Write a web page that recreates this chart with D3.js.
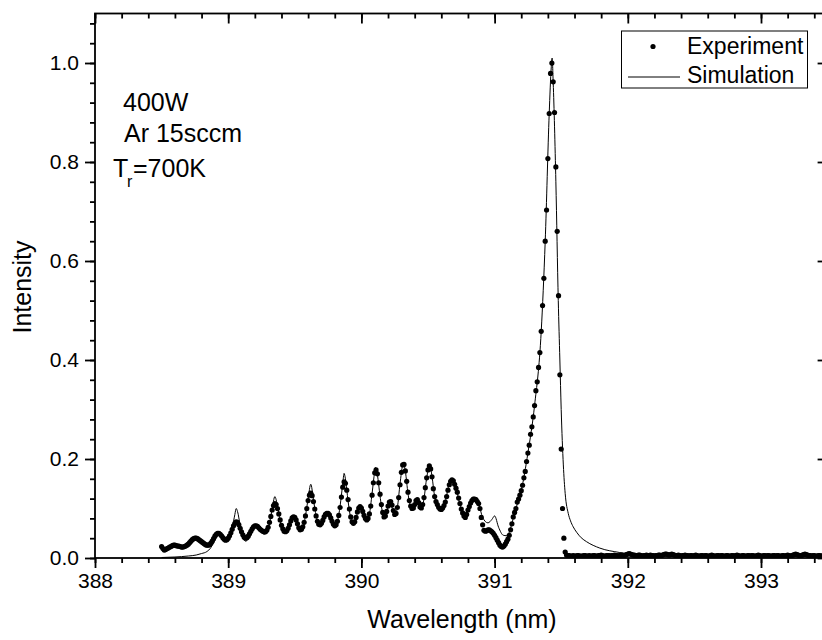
<!DOCTYPE html>
<html>
<head>
<meta charset="utf-8">
<script src="https://cdn.jsdelivr.net/npm/d3@7"></script>
<style>
  html, body { margin: 0; padding: 0; background: #fff; }
  svg { display: block; font-family: "Liberation Sans", Arial, Helvetica, sans-serif; }
</style>
</head>
<body>
<svg id="chart" width="822" height="640"></svg>
<script>
// Measured emission spectrum: intensity sampled every 0.01 nm from 388.50 nm
const wavelengthStart = 388.50;
const wavelengthStep = 0.01;
const experiment = [
  0.023,0.019,0.016,0.017,0.019,0.020,0.022,0.023,0.025,0.026,
  0.026,0.025,0.024,0.024,0.023,0.022,0.022,0.023,0.024,0.026,
  0.028,0.031,0.034,0.037,0.039,0.040,0.040,0.039,0.037,0.035,
  0.033,0.031,0.029,0.027,0.026,0.026,0.027,0.030,0.034,0.039,
  0.044,0.048,0.050,0.050,0.048,0.045,0.041,0.038,0.036,0.037,
  0.040,0.045,0.051,0.058,0.065,0.070,0.073,0.072,0.067,0.060,
  0.053,0.047,0.042,0.040,0.041,0.044,0.049,0.054,0.059,0.063,
  0.065,0.065,0.064,0.061,0.058,0.056,0.054,0.053,0.053,0.056,
  0.062,0.072,0.084,0.097,0.106,0.110,0.108,0.100,0.089,0.077,
  0.066,0.059,0.054,0.053,0.055,0.060,0.067,0.075,0.081,0.083,
  0.082,0.077,0.069,0.061,0.057,0.058,0.063,0.072,0.085,0.100,
  0.116,0.127,0.131,0.126,0.114,0.099,0.085,0.074,0.068,0.067,
  0.070,0.076,0.083,0.088,0.090,0.090,0.087,0.081,0.074,0.068,
  0.065,0.067,0.074,0.086,0.102,0.123,0.143,0.154,0.151,0.137,
  0.118,0.099,0.083,0.073,0.070,0.073,0.082,0.093,0.101,0.104,
  0.101,0.094,0.086,0.080,0.077,0.080,0.089,0.105,0.127,0.152,
  0.172,0.178,0.170,0.152,0.129,0.108,0.092,0.083,0.085,0.094,
  0.105,0.113,0.114,0.107,0.096,0.088,0.090,0.102,0.122,0.148,
  0.173,0.188,0.189,0.176,0.155,0.133,0.116,0.105,0.100,0.101,
  0.108,0.116,0.118,0.112,0.103,0.101,0.108,0.122,0.142,0.162,
  0.178,0.186,0.180,0.164,0.140,0.124,0.114,0.108,0.102,0.099,
  0.098,0.101,0.106,0.113,0.124,0.137,0.148,0.155,0.158,0.156,
  0.149,0.141,0.133,0.121,0.110,0.099,0.091,0.085,0.082,0.088,
  0.097,0.104,0.111,0.116,0.119,0.119,0.118,0.114,0.110,0.100,
  0.082,0.067,0.056,0.054,0.055,0.057,0.057,0.055,0.053,0.050,
  0.046,0.041,0.036,0.031,0.026,0.023,0.022,0.024,0.028,0.033,
  0.038,0.046,0.057,0.069,0.083,0.092,0.100,0.113,0.119,0.127,
  0.136,0.147,0.162,0.175,0.195,0.212,0.228,0.250,0.265,0.285,
  0.308,0.338,0.356,0.385,0.415,0.458,0.510,0.565,0.640,0.703,
  0.807,0.898,0.979,1.000,0.962,0.900,0.790,0.660,0.530,0.370,
  0.220,0.100,0.040,0.012,0.006,0.005,0.005,0.004,0.004,0.005,
  0.004,0.004,0.005,0.005,0.004,0.004,0.004,0.005,0.005,0.004,
  0.004,0.005,0.004,0.004,0.005,0.005,0.004,0.004,0.005,0.005,
  0.006,0.005,0.004,0.004,0.005,0.005,0.005,0.004,0.005,0.005,
  0.006,0.005,0.005,0.004,0.005,0.006,0.006,0.005,0.006,0.007,
  0.008,0.009,0.008,0.007,0.006,0.006,0.005,0.005,0.006,0.006,
  0.005,0.004,0.005,0.005,0.006,0.005,0.005,0.006,0.005,0.005,
  0.004,0.005,0.005,0.006,0.006,0.005,0.006,0.007,0.008,0.008,
  0.007,0.006,0.007,0.008,0.007,0.006,0.005,0.005,0.006,0.005,
  0.004,0.005,0.005,0.006,0.005,0.005,0.004,0.005,0.005,0.004,
  0.005,0.006,0.005,0.004,0.004,0.005,0.005,0.004,0.005,0.005,
  0.004,0.004,0.005,0.006,0.005,0.004,0.004,0.005,0.005,0.004,
  0.005,0.005,0.004,0.004,0.005,0.005,0.004,0.004,0.005,0.005,
  0.004,0.005,0.006,0.005,0.004,0.004,0.005,0.005,0.004,0.004,
  0.005,0.005,0.004,0.005,0.005,0.004,0.004,0.005,0.006,0.005,
  0.004,0.004,0.005,0.005,0.004,0.005,0.005,0.004,0.004,0.005,
  0.005,0.004,0.005,0.005,0.004,0.004,0.005,0.005,0.004,0.005,
  0.006,0.005,0.004,0.005,0.006,0.007,0.008,0.007,0.006,0.005,
  0.005,0.006,0.007,0.008,0.007,0.006,0.005,0.005,0.004,0.005,
  0.005,0.004,0.004,0.005,0.005,0.004,0.004,0.005,0.005,0.004,
  0.005
];

// Simulated spectrum (wavelength in nm, normalised intensity)
const simWavelength = [
  388.50,388.60,388.70,388.76,388.80,388.84,388.87,388.89,388.91,388.93,
  388.95,388.97,388.99,389.01,389.03,389.05,389.06,389.07,389.09,389.11,
  389.13,389.15,389.18,389.21,389.24,389.27,389.29,389.31,389.33,389.35,
  389.37,389.39,389.41,389.43,389.46,389.49,389.51,389.54,389.56,389.58,
  389.60,389.62,389.64,389.66,389.69,389.72,389.745,389.77,389.80,389.82,
  389.84,389.86,389.87,389.88,389.90,389.92,389.935,389.96,389.99,390.02,
  390.04,390.06,390.08,390.10,390.105,390.12,390.14,390.16,390.17,390.19,
  390.215,390.25,390.27,390.29,390.31,390.315,390.33,390.35,390.37,390.39,
  390.415,390.445,390.47,390.49,390.51,390.515,390.53,390.55,390.58,390.60,
  390.63,390.66,390.685,390.71,390.74,390.78,390.81,390.85,390.88,390.91,
  390.95,390.98,391.00,391.03,391.065,391.09,391.11,391.13,391.16,391.20,
  391.25,391.30,391.35,391.38,391.41,391.425,391.432,391.44,391.46,391.478,
  391.49,391.50,391.516,391.53,391.553,391.57,391.59,391.616,391.65,391.69,
  391.79,391.94,392.00,392.10,392.50,393.00,393.50
];
const simIntensity = [
  0.001,0.002,0.004,0.006,0.009,0.013,0.021,0.031,0.041,0.047,
  0.043,0.036,0.035,0.043,0.060,0.088,0.100,0.094,0.066,0.044,
  0.034,0.038,0.053,0.062,0.055,0.048,0.051,0.070,0.098,0.124,
  0.105,0.074,0.055,0.050,0.065,0.082,0.076,0.055,0.060,0.085,
  0.120,0.149,0.118,0.085,0.065,0.082,0.090,0.080,0.063,0.073,
  0.105,0.150,0.171,0.160,0.115,0.080,0.068,0.082,0.103,0.085,
  0.075,0.088,0.130,0.175,0.183,0.168,0.125,0.090,0.082,0.095,
  0.112,0.087,0.102,0.150,0.188,0.192,0.175,0.130,0.103,0.098,
  0.110,0.098,0.120,0.162,0.185,0.186,0.165,0.124,0.102,0.100,
  0.115,0.150,0.160,0.142,0.108,0.085,0.105,0.122,0.110,0.082,
  0.071,0.078,0.085,0.062,0.046,0.045,0.052,0.070,0.100,0.136,
  0.212,0.308,0.458,0.640,0.898,0.990,1.010,0.960,0.760,0.520,
  0.400,0.300,0.188,0.130,0.090,0.075,0.063,0.052,0.041,0.033,
  0.020,0.011,0.008,0.005,0.004,0.004,0.004
];

const xMajorTicks = [388, 389, 390, 391, 392, 393];
const yMajorTicks = [0.0, 0.2, 0.4, 0.6, 0.8, 1.0];
const seriesLabels = ["Experiment", "Simulation"];
const conditionLines = ["400W", "Ar 15sccm"];
const temperatureLabel = { symbol: "T", subscript: "r", value: "=700K" };

const svg = d3.select("#chart");

const plotLeft = 95, plotRight = 827.6, plotTop = 13.5, plotBottom = 558;
const x = d3.scaleLinear().domain([388, 393.5]).range([plotLeft, plotRight]);
const y = d3.scaleLinear().domain([0, 1.1]).range([plotBottom, plotTop]);

const xMinorTicks = d3.range(388, 393.51, 0.2).map(v => +v.toFixed(2));
const yMinorTicks = d3.range(0, 1.101, 0.04).map(v => +v.toFixed(2));

svg.append("defs").append("clipPath").attr("id", "plotClip")
  .append("rect").attr("x", plotLeft).attr("y", plotTop)
  .attr("width", plotRight - plotLeft).attr("height", plotBottom - plotTop);

// Axes: outward ticks on left/bottom, inward ticks on top/right
function styleAxis(g) {
  g.select(".domain").remove();
  g.selectAll(".tick line").attr("stroke", "#000").attr("stroke-width", 1.8);
  g.selectAll(".tick text").attr("fill", "#000").attr("font-size", 21)
    .attr("font-family", "Liberation Sans, Arial, sans-serif");
}

svg.append("g").attr("transform", `translate(0,${plotBottom})`)
  .call(d3.axisBottom(x).tickValues(xMinorTicks).tickSize(5).tickFormat(""))
  .call(styleAxis);
svg.append("g").attr("transform", `translate(0,${plotBottom})`)
  .call(d3.axisBottom(x).tickValues(xMajorTicks).tickSize(10).tickPadding(5).tickFormat(d3.format("d")))
  .call(styleAxis);

svg.append("g").attr("transform", `translate(0,${plotTop})`)
  .call(d3.axisTop(x).tickValues(xMinorTicks).tickSize(-5).tickFormat(""))
  .call(styleAxis);
svg.append("g").attr("transform", `translate(0,${plotTop})`)
  .call(d3.axisTop(x).tickValues(xMajorTicks).tickSize(-10).tickFormat(""))
  .call(styleAxis);

svg.append("g").attr("transform", `translate(${plotLeft},0)`)
  .call(d3.axisLeft(y).tickValues(yMinorTicks).tickSize(5).tickFormat(""))
  .call(styleAxis);
svg.append("g").attr("transform", `translate(${plotLeft},0)`)
  .call(d3.axisLeft(y).tickValues(yMajorTicks).tickSize(10).tickPadding(6).tickFormat(d3.format(".1f")))
  .call(styleAxis);

svg.append("g").attr("transform", `translate(${plotRight},0)`)
  .call(d3.axisRight(y).tickValues(yMinorTicks).tickSize(-5).tickFormat(""))
  .call(styleAxis);
svg.append("g").attr("transform", `translate(${plotRight},0)`)
  .call(d3.axisRight(y).tickValues(yMajorTicks).tickSize(-10).tickFormat(""))
  .call(styleAxis);

// Frame
svg.append("rect")
  .attr("x", plotLeft).attr("y", plotTop)
  .attr("width", plotRight - plotLeft).attr("height", plotBottom - plotTop)
  .attr("fill", "none").attr("stroke", "#000").attr("stroke-width", 1.8);

const plot = svg.append("g").attr("clip-path", "url(#plotClip)");

// Simulation curve
const simData = simWavelength.map((w, i) => ({ w, v: simIntensity[i] }));
plot.append("path")
  .datum(simData)
  .attr("fill", "none").attr("stroke", "#000").attr("stroke-width", 1)
  .attr("d", d3.line().x(d => x(d.w)).y(d => y(d.v)).curve(d3.curveMonotoneX));

// Experimental points
const expData = experiment.map((v, i) => ({ w: wavelengthStart + i * wavelengthStep, v }));
plot.append("g").selectAll("circle")
  .data(expData).join("circle")
  .attr("cx", d => x(d.w)).attr("cy", d => y(d.v)).attr("r", 2.6)
  .attr("fill", "#000");

// Axis titles
svg.append("text")
  .attr("x", 462).attr("y", 628)
  .attr("text-anchor", "middle").attr("font-size", 25).attr("fill", "#000")
  .text("Wavelength (nm)");
svg.append("text")
  .attr("transform", "translate(31,287) rotate(-90)")
  .attr("text-anchor", "middle").attr("font-size", 25).attr("fill", "#000")
  .text("Intensity");

// Operating conditions
svg.append("text").attr("x", 123).attr("y", 111).attr("font-size", 25).text(conditionLines[0]);
svg.append("text").attr("x", 124).attr("y", 142).attr("font-size", 25).text(conditionLines[1]);
svg.append("text").attr("x", 113).attr("y", 177).attr("font-size", 25).text(temperatureLabel.symbol);
svg.append("text").attr("x", 127).attr("y", 187).attr("font-size", 16).text(temperatureLabel.subscript);
svg.append("text").attr("x", 133).attr("y", 177).attr("font-size", 25).text(temperatureLabel.value);

// Legend
const legend = svg.append("g");
legend.append("rect")
  .attr("x", 621.5).attr("y", 31).attr("width", 186).attr("height", 57)
  .attr("fill", "#fff").attr("stroke", "#000").attr("stroke-width", 1);
legend.append("circle").attr("cx", 653).attr("cy", 46.5).attr("r", 2.6).attr("fill", "#000");
legend.append("line").attr("x1", 628).attr("x2", 680).attr("y1", 77).attr("y2", 77)
  .attr("stroke", "#000").attr("stroke-width", 1);
legend.append("text").attr("x", 687).attr("y", 54).attr("font-size", 23).text(seriesLabels[0]);
legend.append("text").attr("x", 687).attr("y", 83).attr("font-size", 23).text(seriesLabels[1]);
</script>
</body>
</html>
